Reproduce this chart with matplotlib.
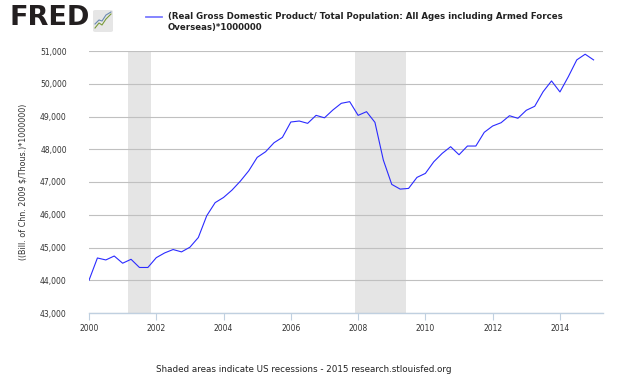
import numpy as np
import matplotlib.pyplot as plt
from matplotlib.patches import FancyBboxPatch

# quarterly values, 2000Q1 .. 2015Q1
start_year = 2000
gdp_per_capita = [
    44000, 44680, 44620, 44740,
    44520, 44640, 44390, 44390,
    44690, 44835, 44938, 44866,
    45009, 45305, 45970, 46370,
    46528, 46752, 47027, 47343,
    47752, 47924, 48199, 48363,
    48832, 48862, 48791, 49035,
    48960, 49199, 49403, 49453,
    49035, 49147, 48822, 47670,
    46927, 46783, 46804, 47141,
    47263, 47618, 47874, 48078,
    47832, 48098, 48098, 48517,
    48710, 48810, 49024, 48945,
    49190, 49312, 49758, 50086,
    49750, 50217, 50728, 50902,
    50728,
]
recession_starts = [2001 + 2 / 12, 2007 + 11 / 12]
recession_ends = [2001 + 10 / 12, 2009 + 5 / 12]
year_ticks = [2000, 2002, 2004, 2006, 2008, 2010, 2012, 2014]
value_ticks = [43000, 44000, 45000, 46000, 47000, 48000, 49000, 50000, 51000]

legend_text = ("(Real Gross Domestic Product/ Total Population: All Ages including Armed Forces\n"
               "Overseas)*1000000")
y_label = "((Bill. of Chn. 2009 $/Thous.)*1000000)"
footer = "Shaded areas indicate US recessions - 2015 research.stlouisfed.org"

t = start_year + np.arange(len(gdp_per_capita)) * 0.25

plt.rcParams['font.family'] = ['DejaVu Sans']

fig = plt.figure(figsize=(6.3, 3.78), dpi=100)
ax = fig.add_axes([89 / 630, 1 - 313 / 378, (603 - 89) / 630, (313 - 51) / 378])

for s, e in zip(recession_starts, recession_ends):
    ax.axvspan(s, e, color='#e5e5e5', lw=0, zorder=0)

ax.plot(t, gdp_per_capita, color='#2b2bff', lw=0.8, zorder=3)

ax.set_xlim(2000, 2015.28)
ax.set_ylim(43000, 51000)
ax.set_xticks(year_ticks)
ax.set_xticklabels([str(y) for y in year_ticks])
ax.set_yticks(value_ticks)
ax.set_yticklabels([f"{v:,}" for v in value_ticks])
ax.yaxis.grid(True, color='#c0c0c0', lw=0.8, zorder=1)
ax.set_axisbelow(True)

for side in ['top', 'right', 'left']:
    ax.spines[side].set_visible(False)
ax.spines['bottom'].set_color('#c0d0e0')
ax.spines['bottom'].set_linewidth(1.0)
ax.spines['bottom'].set_zorder(4)

ax.tick_params(axis='y', length=0, pad=16, labelsize=5.5, labelcolor='#333333')
ax.tick_params(axis='x', length=5, width=0.8, color='#c0d0e0', pad=3,
               labelsize=5.5, labelcolor='#333333')

ax.set_ylabel(y_label, fontsize=5.8, color='#333333', labelpad=9)

# header: logo and legend
fig.text(9 / 630, 1 - 18 / 378, "FRED", fontsize=19.5, fontweight='heavy',
         color='#231f20', va='center', ha='left')
icon = FancyBboxPatch((93 / 630, 1 - 32 / 378), 20 / 630, 22 / 378,
                      boxstyle='round,pad=0,rounding_size=0.004',
                      transform=fig.transFigure, fc='#e6e6e6', ec='none')
fig.patches.append(icon)
icon_x = [95, 99, 102, 106, 111]
icon_green = [28, 23, 25, 19, 14]
icon_blue = [24, 20, 21, 15, 12]
fig.lines.append(plt.Line2D(np.array(icon_x) / 630, 1 - np.array(icon_green) / 378,
                            transform=fig.transFigure, color='#7a9a3a', lw=0.8))
fig.lines.append(plt.Line2D(np.array(icon_x) / 630, 1 - np.array(icon_blue) / 378,
                            transform=fig.transFigure, color='#6a8ab0', lw=0.8))

fig.lines.append(plt.Line2D([146 / 630, 162 / 630], [1 - 17 / 378, 1 - 17 / 378],
                            transform=fig.transFigure, color='#7b7bff', lw=1.3))
fig.text(168 / 630, 1 - 12 / 378, legend_text, fontsize=6.2, fontweight='bold',
         color='#222222', va='top', ha='left', linespacing=1.35)

fig.text(304 / 630, 1 - 370 / 378, footer, fontsize=6.3, color='#222222',
         ha='center', va='center')

fig.savefig('out.png', dpi=100)
